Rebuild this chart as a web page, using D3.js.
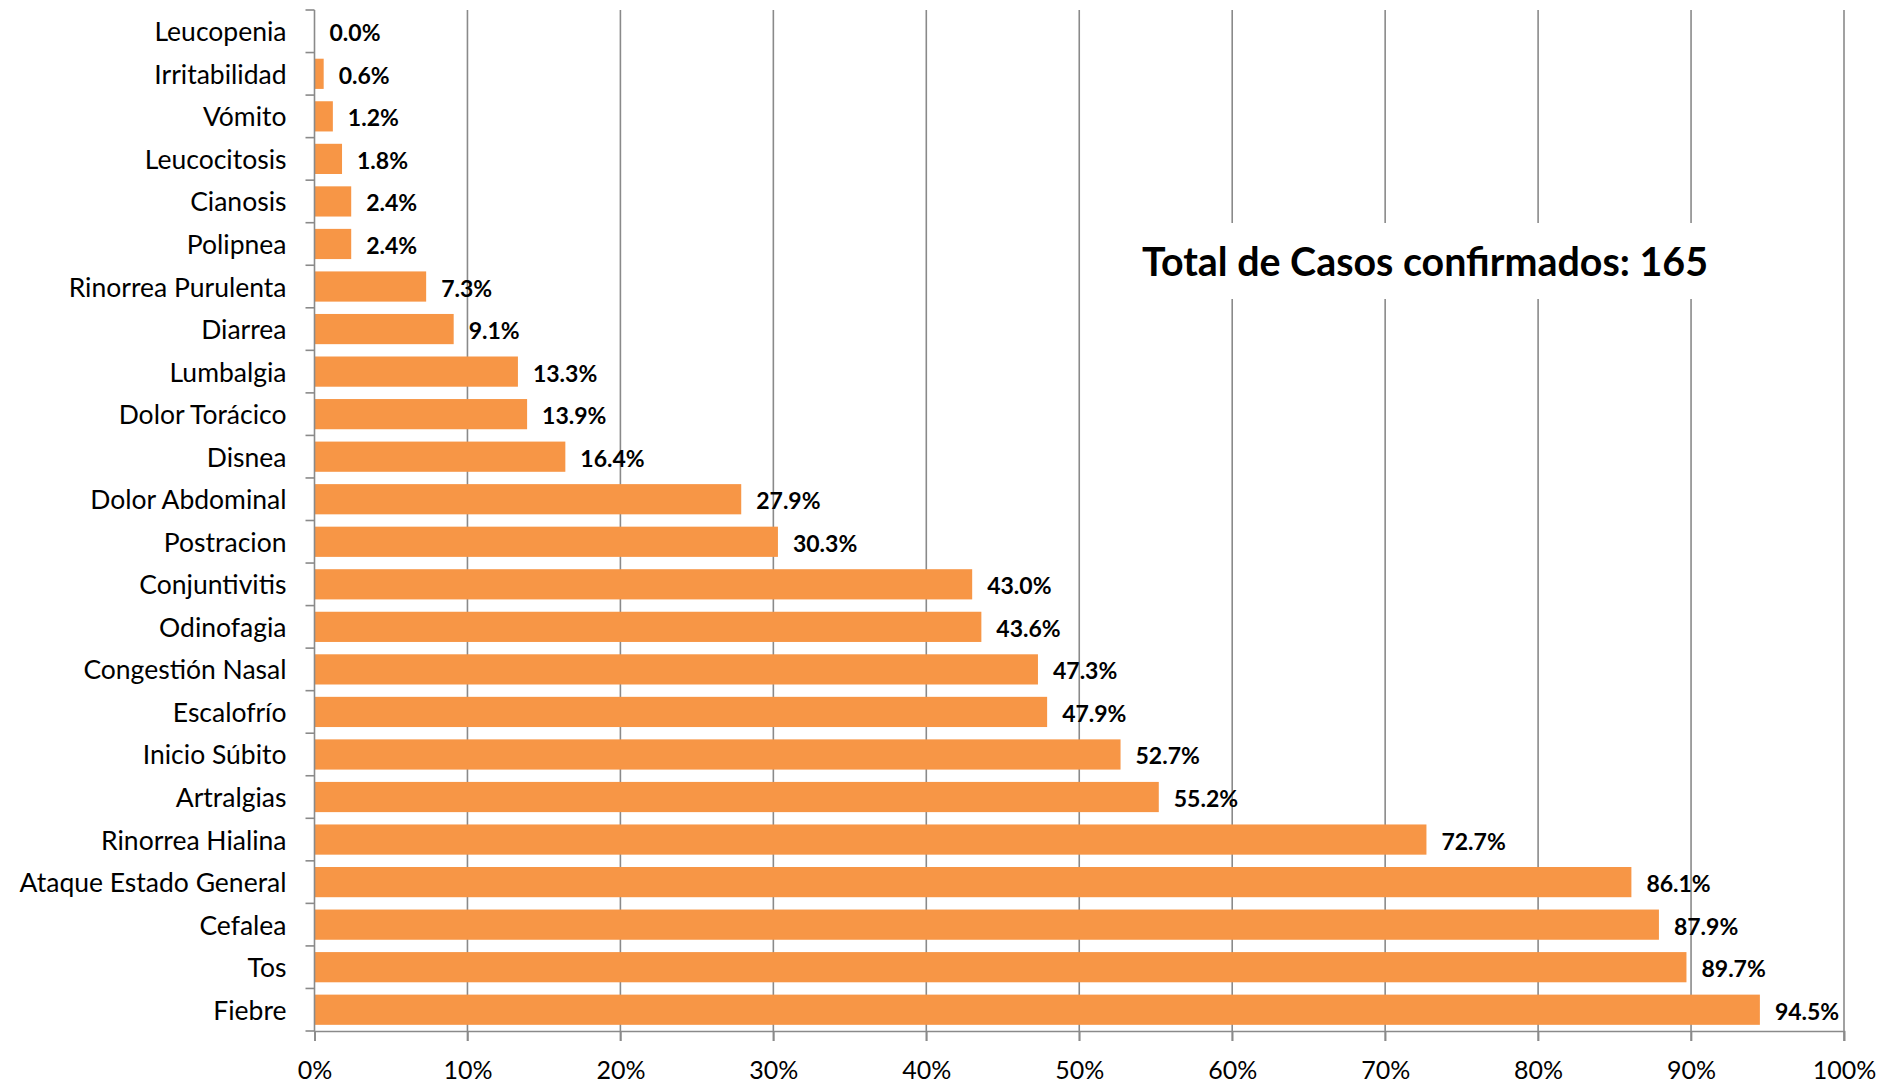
<!DOCTYPE html>
<html>
<head>
<meta charset="utf-8">
<script src="https://cdn.jsdelivr.net/npm/d3@7"></script>
<style>
  body { margin: 0; background: #fff; }
  text { font-family: Lato, "Open Sans", sans-serif; fill: #000; }
</style>
</head>
<body>
<div id="chart"></div>
<script>
// sintomas, de arriba hacia abajo
var sintomas = ['Leucopenia', 'Irritabilidad', 'Vómito', 'Leucocitosis', 'Cianosis', 'Polipnea',
  'Rinorrea Purulenta', 'Diarrea', 'Lumbalgia', 'Dolor Torácico', 'Disnea', 'Dolor Abdominal',
  'Postracion', 'Conjuntivitis', 'Odinofagia', 'Congestión Nasal', 'Escalofrío', 'Inicio Súbito',
  'Artralgias', 'Rinorrea Hialina', 'Ataque Estado General', 'Cefalea', 'Tos', 'Fiebre']
var porcentajes = [0.0, 0.6, 1.2, 1.8, 2.4, 2.4, 7.3, 9.1, 13.3, 13.9, 16.4, 27.9,
  30.3, 43.0, 43.6, 47.3, 47.9, 52.7, 55.2, 72.7, 86.1, 87.9, 89.7, 94.5]
var ticksX = [0, 10, 20, 30, 40, 50, 60, 70, 80, 90, 100]
var titulo = 'Total de Casos confirmados: 165'

var W = 1878, H = 1086
var margin = { top: 10, right: 34, bottom: 55, left: 314.5 }

var svg = d3.select('#chart').append('svg')
  .attr('width', W).attr('height', H)

var x = d3.scaleLinear().domain([0, 100]).range([margin.left, W - margin.right])
var y = d3.scaleBand().domain(sintomas).range([margin.top, H - margin.bottom]).paddingInner(0.29).paddingOuter(0.145)
var yb = d3.scaleBand().domain(sintomas).range([margin.top, H - margin.bottom])

// lineas de cuadricula
svg.append('g').selectAll('line')
  .data(ticksX.slice(1))
  .enter().append('line')
  .attr('x1', function (d) { return x(d) }).attr('x2', function (d) { return x(d) })
  .attr('y1', margin.top).attr('y2', H - margin.bottom + 10)
  .attr('stroke', '#8a8a8a').attr('stroke-width', 1.6)

// caja del titulo (tapa las lineas)
var tx = 1425, ty = 261
svg.append('rect')
  .attr('x', 1132).attr('y', 223).attr('width', 587).attr('height', 76)
  .attr('fill', '#fff')
svg.append('text')
  .attr('x', tx).attr('y', ty)
  .attr('text-anchor', 'middle').attr('dominant-baseline', 'central')
  .attr('font-weight', 'bold').attr('font-size', 40)
  .attr('textLength', 566).attr('lengthAdjust', 'spacingAndGlyphs')
  .text(titulo)

// barras
svg.append('g').selectAll('rect')
  .data(porcentajes)
  .enter().append('rect')
  .attr('x', x(0))
  .attr('y', function (d, i) { return y(sintomas[i]) })
  .attr('width', function (d) { return x(d) - x(0) })
  .attr('height', y.bandwidth())
  .attr('fill', '#F79646')

// etiquetas de valor
svg.append('g').selectAll('text')
  .data(porcentajes)
  .enter().append('text')
  .attr('x', function (d) { return x(d) + 15 })
  .attr('y', function (d, i) { return y(sintomas[i]) + y.bandwidth() / 2 + 1 })
  .attr('dominant-baseline', 'central')
  .attr('font-weight', 'bold').attr('font-size', 23)
  .text(function (d) { return d.toFixed(1) + '%' })

// eje vertical con marcas entre categorias
var gy = svg.append('g')
gy.append('line')
  .attr('x1', x(0)).attr('x2', x(0))
  .attr('y1', margin.top).attr('y2', H - margin.bottom)
  .attr('stroke', '#8a8a8a').attr('stroke-width', 1.6)
gy.selectAll('line.tk')
  .data(d3.range(sintomas.length + 1))
  .enter().append('line')
  .attr('class', 'tk')
  .attr('x1', x(0) - 9).attr('x2', x(0))
  .attr('y1', function (i) { return margin.top + i * yb.step() })
  .attr('y2', function (i) { return margin.top + i * yb.step() })
  .attr('stroke', '#8a8a8a').attr('stroke-width', 1.6)
gy.selectAll('text')
  .data(sintomas)
  .enter().append('text')
  .attr('x', x(0) - 28)
  .attr('y', function (d) { return yb(d) + yb.bandwidth() / 2 })
  .attr('text-anchor', 'end').attr('dominant-baseline', 'central')
  .attr('font-size', 26.5)
  .text(function (d) { return d })

// eje horizontal
var gx = svg.append('g')
  .attr('transform', 'translate(0,' + (H - margin.bottom) + ')')
  .call(d3.axisBottom(x).tickValues(ticksX).tickSize(10).tickPadding(20).tickFormat(function (d) { return d + '%' }))
gx.select('.domain').attr('stroke', '#8a8a8a').attr('stroke-width', 1.6)
gx.selectAll('.tick line').attr('stroke', '#8a8a8a').attr('stroke-width', 1.6)
gx.selectAll('.tick text')
  .attr('font-family', 'Lato, sans-serif').attr('font-size', 25).attr('fill', '#000')
</script>
</body>
</html>
